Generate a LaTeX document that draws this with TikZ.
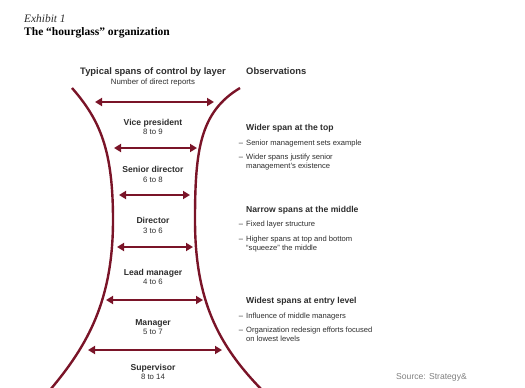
\documentclass[tikz,border=0pt]{standalone}
\usepackage{fontspec}
\setmainfont{Liberation Sans}
\newfontfamily\titlefont{Liberation Serif}
\usetikzlibrary{arrows.meta}
\definecolor{hgred}{RGB}{122,20,40}
\definecolor{txt}{RGB}{45,45,45}

\begin{document}
\begin{tikzpicture}[x=1pt,y=-1pt,
        every node/.style={inner sep=0pt,text=txt},
        layer/.style={font=\fontsize{8.6}{9}\selectfont\bfseries,anchor=base},
        count/.style={font=\fontsize{7.8}{9}\selectfont,anchor=base},
        colhead/.style={font=\fontsize{9.4}{10}\selectfont\bfseries,anchor=base},
        obshead/.style={font=\fontsize{8.6}{9}\selectfont\bfseries,anchor=base west},
        obs/.style={font=\fontsize{7.6}{9}\selectfont,anchor=base west,align=left},
        span/.style={{Triangle[length=7pt,width=8pt]}-{Triangle[length=7pt,width=8pt]},hgred,line width=2.3pt},
        glass/.style={hgred,line width=2.4pt}
    ]
        \useasboundingbox (0,0) rectangle (525,388);

        % heading
        \node[anchor=base west,font=\titlefont\itshape\fontsize{11.4}{12}\selectfont] (exh) at (24,22.5) {Exhibit 1};
        \node[anchor=base west,font=\titlefont\bfseries\fontsize{11.5}{12}\selectfont,text=black] (title) at (24,35) {The “hourglass” organization};

        \node[colhead] (colL) at (153,74.5) {Typical spans of control by layer};
        \node[count] (colLsub) at (153,84) {Number of direct reports};
        \node[colhead,anchor=base west] (colR) at (246,74.5) {Observations};

        % hourglass sides
        \draw[glass] (72,88) .. controls (100,120) and (113,150) .. (113,220)
            .. controls (113,300) and (88,345) .. (50,390);
        \draw[glass] (240,88) .. controls (200,112) and (195,150) .. (195,220)
            .. controls (195,300) and (218,345) .. (262,390);

        % spans
        \coordinate (a1l) at (95,102);  \coordinate (a1r) at (214,102);
        \coordinate (a2l) at (114,148); \coordinate (a2r) at (197,148);
        \coordinate (a3l) at (119,195); \coordinate (a3r) at (190,195);
        \coordinate (a4l) at (117,247); \coordinate (a4r) at (193,247);
        \coordinate (a5l) at (106,300); \coordinate (a5r) at (203,300);
        \coordinate (a6l) at (88,350);  \coordinate (a6r) at (222,350);
        \draw[span] (a1l) -- (a1r);
        \draw[span] (a2l) -- (a2r);
        \draw[span] (a3l) -- (a3r);
        \draw[span] (a4l) -- (a4r);
        \draw[span] (a5l) -- (a5r);
        \draw[span] (a6l) -- (a6r);

        % layers
        \node[layer] (vp) at (153,125) {Vice president};
        \node[count] (vpn) at (153,134.5) {8 to 9};
        \node[layer] (sd) at (153,172.5) {Senior director};
        \node[count] (sdn) at (153,182) {6 to 8};
        \node[layer] (dir) at (153,223.5) {Director};
        \node[count] (dirn) at (153,233) {3 to 6};
        \node[layer] (lm) at (153,275) {Lead manager};
        \node[count] (lmn) at (153,284.5) {4 to 6};
        \node[layer] (mgr) at (153,325) {Manager};
        \node[count] (mgrn) at (153,334.5) {5 to 7};
        \node[layer] (sup) at (153,370) {Supervisor};
        \node[count] (supn) at (153,379.5) {8 to 14};

        % observations
        \node[obshead] (top) at (246,130) {Wider span at the top};
        \node[obs] (top1) at (246,145) {\llap{–\hspace{3pt}}Senior management sets example};
        \node[obs] (top2) at (246,168) {\llap{–\hspace{3pt}}Wider spans justify senior\\management’s existence};
        \node[obshead] (mid) at (246,212) {Narrow spans at the middle};
        \node[obs] (mid1) at (246,226) {\llap{–\hspace{3pt}}Fixed layer structure};
        \node[obs] (mid2) at (246,250) {\llap{–\hspace{3pt}}Higher spans at top and bottom\\“squeeze” the middle};
        \node[obshead] (bot) at (246,303) {Widest spans at entry level};
        \node[obs] (bot1) at (246,318) {\llap{–\hspace{3pt}}Influence of middle managers};
        \node[obs] (bot2) at (246,341) {\llap{–\hspace{3pt}}Organization redesign efforts focused\\on lowest levels};

        \node[anchor=base east,font=\fontsize{8.6}{9}\selectfont,text=black!50] (src) at (467,379) {Source: Strategy\&};
    \end{tikzpicture}
\end{document}
